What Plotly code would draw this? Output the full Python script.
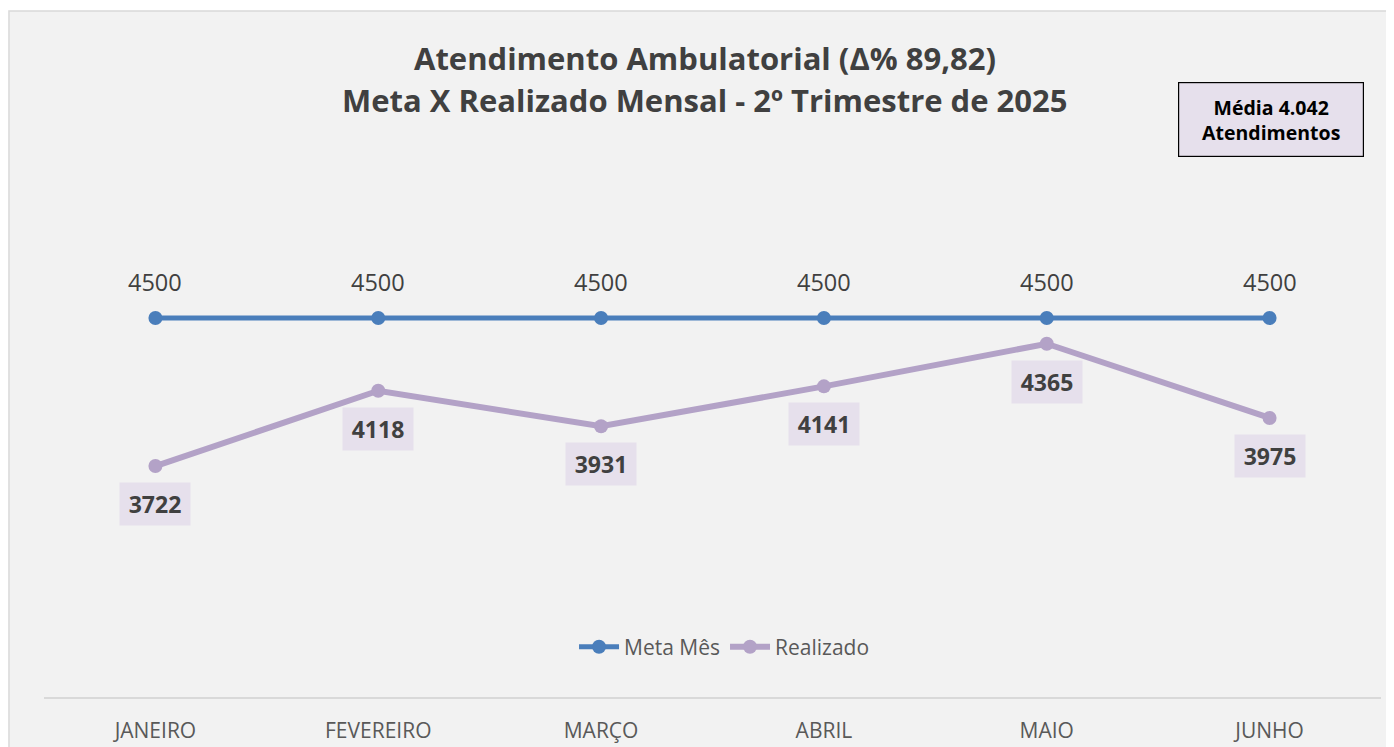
import plotly.graph_objects as go

months = ["JANEIRO", "FEVEREIRO", "MARÇO", "ABRIL", "MAIO", "JUNHO"]
meta = [4500, 4500, 4500, 4500, 4500, 4500]
realizado = [3722, 4118, 3931, 4141, 4365, 3975]

title_line1 = "Atendimento Ambulatorial (Δ% 89,82)"
title_line2 = "Meta X Realizado Mensal - 2º Trimestre de 2025"
box_text = "Média 4.042<br>Atendimentos"

FONT = "Open Sans"
BLUE = "#4A7EBB"
LAV = "#B3A2C7"
LAV_BG = "#E6E0EC"
DARK = "#404040"
GREY = "#595959"

fig = go.Figure()
fig.add_trace(go.Scatter(
    x=months, y=meta, name="Meta Mês", mode="lines+markers",
    line=dict(color=BLUE, width=5), marker=dict(color=BLUE, size=14),
))
fig.add_trace(go.Scatter(
    x=months, y=realizado, name="Realizado", mode="lines+markers",
    line=dict(color=LAV, width=6), marker=dict(color=LAV, size=14),
))

for m, v in zip(months, meta):
    fig.add_annotation(
        x=m, y=v, text=str(v), showarrow=False, yshift=36,
        font=dict(family=FONT, size=23.5, color=DARK),
    )

for m, v in zip(months, realizado):
    fig.add_annotation(
        x=m, y=v, text="<b>%d</b>" % v, showarrow=False, yshift=-38,
        font=dict(family=FONT, size=23, color=DARK),
        bgcolor=LAV_BG, borderpad=5, width=60,
    )

# title lines
fig.add_annotation(
    xref="paper", yref="paper", x=0.4944, y=1.345, xanchor="center", yanchor="middle",
    text="<b>" + title_line1 + "</b>", showarrow=False,
    font=dict(family=FONT, size=31, color=DARK),
)
fig.add_annotation(
    xref="paper", yref="paper", x=0.4944, y=1.257, xanchor="center", yanchor="middle",
    text="<b>" + title_line2 + "</b>", showarrow=False,
    font=dict(family=FONT, size=31, color=DARK),
)

fig.add_annotation(
    xref="paper", yref="paper", x=0.9174, y=1.2158, xanchor="center", yanchor="middle",
    text="<b>" + box_text + "</b>", showarrow=False,
    font=dict(family=FONT, size=19.5, color="#000000"),
    bgcolor=LAV_BG, bordercolor="#000000", borderwidth=1.2, borderpad=6,
    width=172, height=61, align="center",
)

fig.add_shape(
    type="rect", xref="paper", yref="paper", layer="below",
    x0=-0.0262, x1=1.05, y0=-0.2, y1=1.444,
    fillcolor="#F2F2F2", line=dict(color="#D9D9D9", width=1.5),
)

fig.update_layout(
    width=1394, height=747,
    paper_bgcolor="#FFFFFF", plot_bgcolor="rgba(0,0,0,0)",
    margin=dict(l=35.5, r=20.5, t=214, b=58),
    showlegend=True,
    legend=dict(
        orientation="h", x=0.509, xanchor="center", y=0.105, yanchor="middle",
        font=dict(family=FONT, size=21, color=GREY), bgcolor="rgba(0,0,0,0)",
        itemwidth=40, tracegroupgap=0,
    ),
    xaxis=dict(
        showgrid=False, showline=True, linecolor="#D9D9D9", linewidth=1.5,
        ticks="outside", ticklen=14, tickcolor="rgba(0,0,0,0)",
        tickfont=dict(family=FONT, size=21, color=GREY),
        range=[-0.5, 5.5], fixedrange=True,
    ),
    yaxis=dict(
        range=[2508, 5005], visible=False, showgrid=False, zeroline=False,
    ),
)

fig.write_html("out.html")
